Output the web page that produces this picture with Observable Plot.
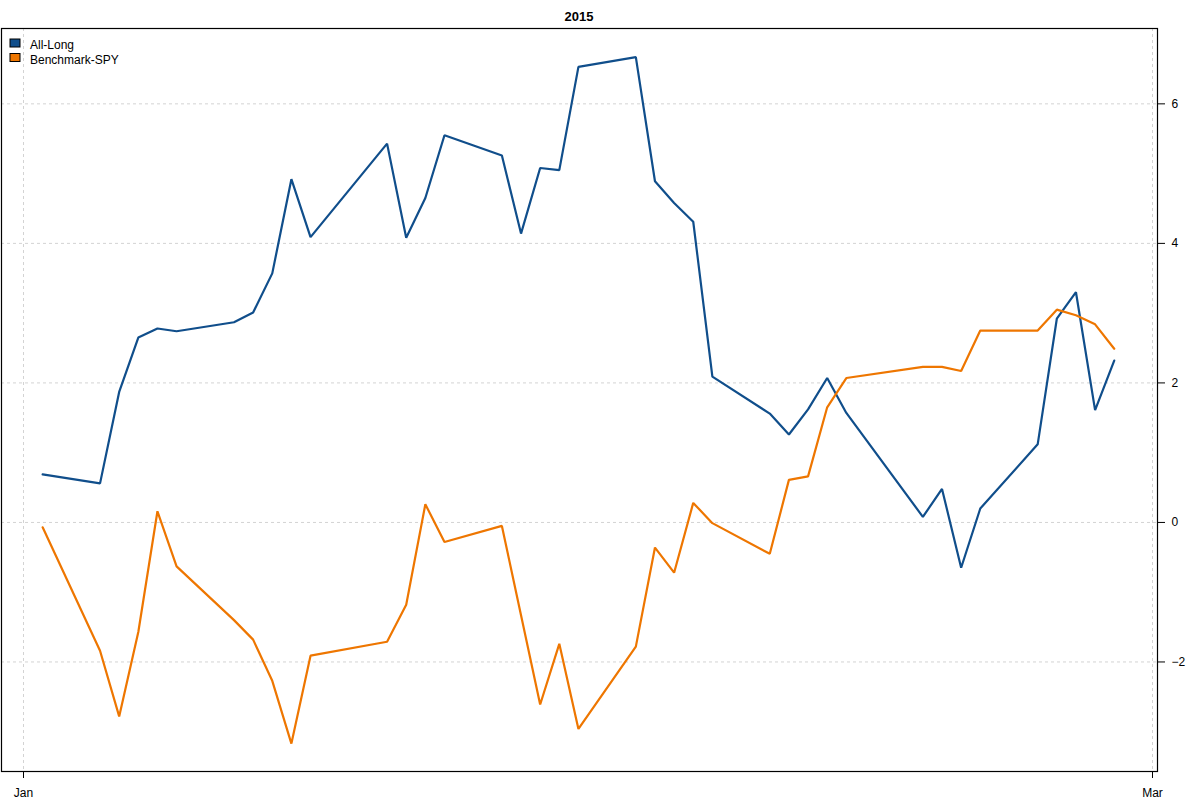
<!DOCTYPE html>
<html>
<head>
<meta charset="utf-8">
<script src="https://cdn.jsdelivr.net/npm/d3@7"></script>
<script src="https://cdn.jsdelivr.net/npm/@observablehq/plot@0.6"></script>
<style>
  body { margin: 0; background: #fff; }
  #chart svg text { font-size: 12px; }
</style>
</head>
<body>
<div id="chart"></div>
<script>
// ---- data ----
const dates = [
  "2015-01-02","2015-01-05","2015-01-06","2015-01-07","2015-01-08","2015-01-09",
  "2015-01-12","2015-01-13","2015-01-14","2015-01-15","2015-01-16",
  "2015-01-20","2015-01-21","2015-01-22","2015-01-23",
  "2015-01-26","2015-01-27","2015-01-28","2015-01-29","2015-01-30",
  "2015-02-02","2015-02-03","2015-02-04","2015-02-05","2015-02-06",
  "2015-02-09","2015-02-10","2015-02-11","2015-02-12","2015-02-13",
  "2015-02-17","2015-02-18","2015-02-19","2015-02-20",
  "2015-02-23","2015-02-24","2015-02-25","2015-02-26","2015-02-27"
];
const allLong = [
  0.69, 0.56, 1.87, 2.65, 2.78, 2.74,
  2.87, 3.01, 3.57, 4.92, 4.09,
  5.43, 4.08, 4.65, 5.55,
  5.26, 4.14, 5.08, 5.05, 6.53,
  6.67, 4.89, 4.58, 4.31, 2.09,
  1.56, 1.26, 1.62, 2.07, 1.57,
  0.08, 0.48, -0.65, 0.20,
  1.12, 2.92, 3.30, 1.61, 2.32
];
const benchmarkSPY = [
  -0.07, -1.84, -2.78, -1.57, 0.16, -0.63,
  -1.40, -1.68, -2.27, -3.17, -1.91,
  -1.71, -1.18, 0.26, -0.28,
  -0.05, -1.33, -2.61, -1.74, -2.96,
  -1.78, -0.36, -0.72, 0.28, -0.01,
  -0.45, 0.61, 0.66, 1.65, 2.07,
  2.23, 2.23, 2.17, 2.75,
  2.75, 3.05, 2.97, 2.84, 2.49
];
const seriesNames = ["All-Long", "Benchmark-SPY"];
const seriesColors = ["#104E8B", "#EE7600"];
const yTicks = [-2, 0, 2, 4, 6];
const xTicks = ["2015-01-01", "2015-03-01"];
const xTickLabels = ["Jan", "Mar"];
const titleText = "2015";

// ---- build ----
const parse = d3.utcParse("%Y-%m-%d");
const xTickDates = xTicks.map(parse);
const seriesValues = [allLong, benchmarkSPY];
const rows = seriesNames.flatMap((name, s) =>
  dates.map((d, i) => ({date: parse(d), value: seriesValues[s][i], series: name}))
);

const fontFamily = "'Liberation Sans', Arial, Helvetica, sans-serif";

const chart = Plot.plot({
  width: 1200,
  height: 800,
  marginLeft: 1,
  marginRight: 43,
  marginTop: 28,
  marginBottom: 29,
  style: {fontFamily, fontSize: "12px", color: "black", background: "white"},
  x: {
    type: "utc",
    domain: [xTickDates[0], xTickDates[1]],
    range: [23, 1152],
    ticks: xTickDates,
    tickFormat: d => xTickLabels[xTickDates.findIndex(t => +t === +d)],
    tickSize: 7,
    tickPadding: 10,
    label: null
  },
  y: {
    domain: [-3.57, 7.08],
    axis: "right",
    ticks: yTicks,
    tickSize: 7,
    tickPadding: 7,
    label: null
  },
  color: {domain: seriesNames, range: seriesColors},
  marks: [
    Plot.ruleY(yTicks, {stroke: "#D3D3D3", strokeDasharray: "3,3"}),
    Plot.ruleX(xTickDates, {stroke: "#D3D3D3", strokeDasharray: "3,3"}),
    Plot.line(rows, {x: "date", y: "value", stroke: "series", strokeWidth: 2.2, strokeLinejoin: "miter"}),
    Plot.frame({stroke: "black", strokeWidth: 1.2})
  ]
});

const svg = d3.select(chart);
// title
svg.append("text")
  .attr("x", (1 + 1157) / 2)
  .attr("y", 21)
  .attr("text-anchor", "middle")
  .attr("font-family", fontFamily)
  .style("font-size", "13px")
  .attr("font-weight", "bold")
  .attr("fill", "black")
  .text(titleText);

// legend
const lg = svg.append("g").attr("font-family", fontFamily).attr("text-anchor", "start");
seriesNames.forEach((name, i) => {
  lg.append("rect")
    .attr("x", 10).attr("y", 39 + i * 14.5)
    .attr("width", 10).attr("height", 8)
    .attr("fill", seriesColors[i]).attr("stroke", "black").attr("stroke-width", 1);
  lg.append("text")
    .attr("x", 30).attr("y", 49 + i * 14.5)
    .attr("text-anchor", "start")
    .attr("fill", "black")
    .text(name);
});

document.getElementById("chart").appendChild(chart);
</script>
</body>
</html>
